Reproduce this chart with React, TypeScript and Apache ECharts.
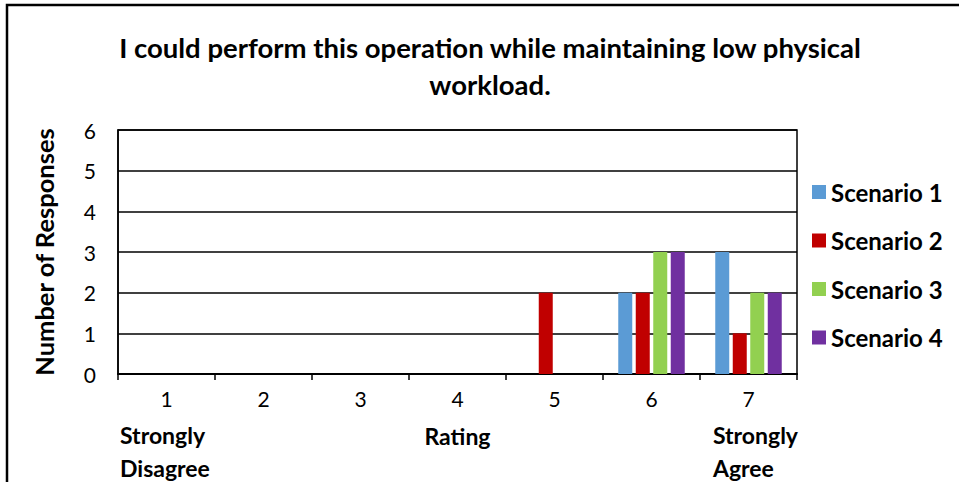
import React, { useEffect, useRef } from "react";
import * as echarts from "echarts";

const categories = ["1", "2", "3", "4", "5", "6", "7"];
const seriesNames = ["Scenario 1", "Scenario 2", "Scenario 3", "Scenario 4"];
const scenario1 = [0, 0, 0, 0, 0, 2, 3];
const scenario2 = [0, 0, 0, 0, 2, 2, 1];
const scenario3 = [0, 0, 0, 0, 0, 3, 2];
const scenario4 = [0, 0, 0, 0, 0, 3, 2];
const colors = ["#5B9BD5", "#C00000", "#92D050", "#7030A0"];
const titleText = "I could perform this operation while maintaining low physical\nworkload.";
const FONT = "Lato, 'Open Sans', sans-serif";

export default function App() {
  const ref = useRef<HTMLDivElement>(null);
  useEffect(() => {
    if (!ref.current) return;
    const chart = echarts.init(ref.current, undefined, { renderer: "svg" });
    const values = [scenario1, scenario2, scenario3, scenario4];
    chart.setOption({
      animation: false,
      backgroundColor: "#fff",
      color: colors,
      title: {
        text: titleText,
        left: 485,
        textAlign: "center",
        top: 24,
        textStyle: { fontFamily: FONT, fontWeight: "bold", fontSize: 27.5, color: "#000", lineHeight: 37 },
      },
      legend: {
        orient: "vertical",
        left: 807,
        top: 175,
        itemWidth: 14,
        itemHeight: 14,
        itemGap: 24.5,
        icon: "rect",
        data: seriesNames,
        textStyle: { fontFamily: FONT, fontWeight: "bold", fontSize: 24, color: "#000", padding: [0, 0, 0, 0] },
      },
      grid: {
        left: 118,
        right: 162,
        top: 130,
        bottom: 108,
        show: true,
        borderColor: "#000",
        borderWidth: 1.5,
      },
      xAxis: {
        type: "category",
        data: categories,
        name: "Rating",
        nameLocation: "middle",
        nameGap: 50,
        nameTextStyle: { fontFamily: FONT, fontWeight: "bold", fontSize: 23, color: "#000" },
        axisLine: { lineStyle: { color: "#000", width: 2 } },
        axisTick: { show: true, length: 6, lineStyle: { color: "#000", width: 1.5 } },
        axisLabel: { fontFamily: FONT, fontSize: 21, color: "#000", margin: 14 },
      },
      yAxis: {
        type: "value",
        min: 0,
        max: 6,
        interval: 1,
        name: "Number of Responses",
        nameLocation: "middle",
        nameGap: 61,
        nameTextStyle: { fontFamily: FONT, fontWeight: "bold", fontSize: 25.5, color: "#000" },
        axisLine: { show: true, lineStyle: { color: "#000", width: 1.5 } },
        axisTick: { show: false },
        axisLabel: { fontFamily: FONT, fontSize: 21, color: "#000", margin: 22 },
        splitLine: { lineStyle: { color: "#000", width: 1.5 } },
      },
      series: seriesNames.map((name, i) => ({
        name,
        type: "bar",
        data: values[i],
        barWidth: 14,
        barGap: "25%",
        itemStyle: { color: colors[i] },
      })),
      graphic: [
        {
          type: "rect",
          shape: { x: 7, y: 5, width: 1200, height: 1200 },
          style: { fill: "none", stroke: "#000", lineWidth: 2.5 },
          silent: true,
          z: -1,
        },
        {
          type: "text",
          left: 120,
          top: 418,
          style: { text: "Strongly\nDisagree", fontFamily: FONT, fontWeight: "bold", fontSize: 23, fill: "#000", lineHeight: 33, align: "left" },
        },
        {
          type: "text",
          right: 161,
          top: 418,
          style: { text: "Strongly\nAgree", fontFamily: FONT, fontWeight: "bold", fontSize: 23, fill: "#000", lineHeight: 33, align: "right" },
        },
      ],
    });
    return () => chart.dispose();
  }, []);
  return <div ref={ref} style={{ position: "absolute", left: 0, top: 0, width: 959, height: 482 }} />;
}
